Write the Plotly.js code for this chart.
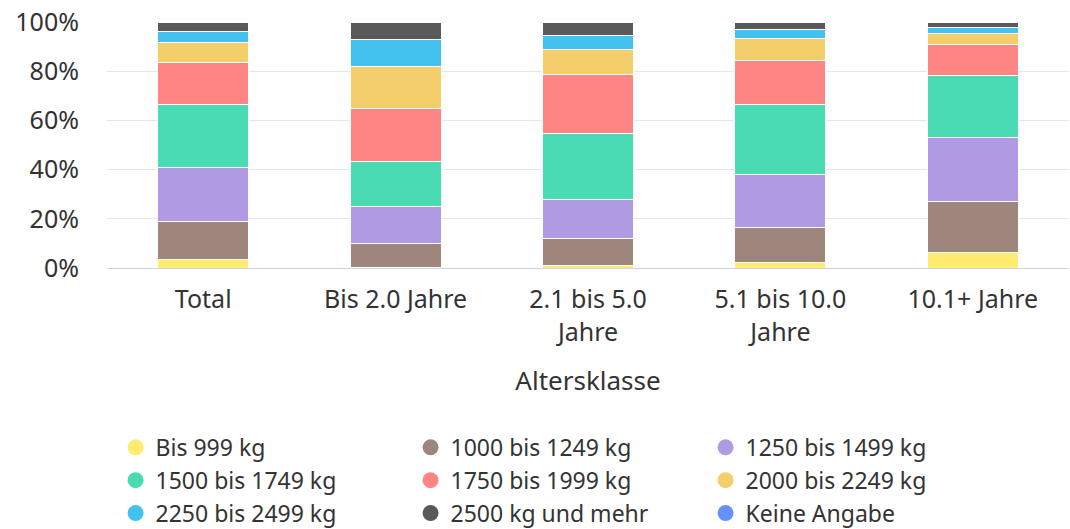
<!DOCTYPE html>
<html>
<head>
<meta charset="utf-8">
<script src="https://cdn.plot.ly/plotly-3.0.1.min.js"></script>
<style>html,body{margin:0;padding:0;background:#fff}#chart{width:1070px;height:529px}</style>
</head>
<body>
<div id="chart"></div>
<script>
const categories = ["Total", "Bis 2.0 Jahre", "2.1 bis 5.0 Jahre", "5.1 bis 10.0 Jahre", "10.1+ Jahre"];
const tickLabels = ["Total", "Bis 2.0 Jahre", "2.1 bis 5.0<br>Jahre", "5.1 bis 10.0<br>Jahre", "10.1+ Jahre"];
const yTickValues = [0, 20, 40, 60, 80, 100];
const yTickLabels = ["0%", "20%", "40%", "60%", "80%", "100%"];
const seriesNames = ["Bis 999 kg", "1000 bis 1249 kg", "1250 bis 1499 kg", "1500 bis 1749 kg", "1750 bis 1999 kg", "2000 bis 2249 kg", "2250 bis 2499 kg", "2500 kg und mehr", "Keine Angabe"];
const bis999     = [3.3, 0.3, 1.1, 2.4, 6.2];
const s1000_1249 = [15.5, 9.7, 11.0, 14.1, 20.8];
const s1250_1499 = [21.9, 14.8, 15.7, 21.5, 26.0];
const s1500_1749 = [25.8, 18.6, 26.8, 28.4, 25.4];
const s1750_1999 = [17.1, 21.6, 23.9, 17.9, 12.6];
const s2000_2249 = [8.1, 17.1, 10.2, 8.9, 4.4];
const s2250_2499 = [4.4, 10.6, 6.0, 3.8, 2.3];
const s2500plus  = [3.9, 7.3, 5.3, 3.0, 2.3];
const keineAngabe = [0, 0, 0, 0, 0];
const seriesValues = [bis999, s1000_1249, s1250_1499, s1500_1749, s1750_1999, s2000_2249, s2250_2499, s2500plus, keineAngabe];
const colors = ["#FFEB6E", "#9E867C", "#B19AE4", "#4ADBB4", "#FF8585", "#F4CE6A", "#43C1EF", "#595959", "#6690FF"];

const FONT = "Noto Sans, Open Sans, sans-serif";
const traces = [];
seriesValues.forEach((vals, i) => {
  traces.push({
    type: "bar", name: seriesNames[i], x: categories, y: vals,
    marker: {color: colors[i], line: {color: "#ffffff", width: 1}},
    showlegend: false, legendgroup: "g" + i,
    hovertemplate: "%{x}<br>" + seriesNames[i] + ": %{y}%<extra></extra>"
  });
});
seriesValues.forEach((vals, i) => {
  traces.push({
    type: "scatter", mode: "markers", name: seriesNames[i], x: [null], y: [null],
    marker: {color: colors[i], size: 20, symbol: "circle"},
    showlegend: true, legendgroup: "g" + i, hoverinfo: "skip"
  });
});

const layout = {
  width: 1070, height: 529,
  paper_bgcolor: "#ffffff", plot_bgcolor: "#ffffff",
  margin: {l: 107, r: 1, t: 22, b: 261},
  barmode: "stack", bargap: 0.527,
  font: {family: FONT, size: 25, color: "#333333"},
  showlegend: true,
  xaxis: {
    type: "category", categoryarray: categories, tickvals: categories, ticktext: tickLabels,
    showline: true, linecolor: "#ccd6eb", linewidth: 1, ticks: "",
    ticklabelstandoff: 9,
    tickfont: {family: FONT, size: 25, color: "#333333"},
    title: {text: "Altersklasse", font: {family: FONT, size: 26, color: "#333333"}, standoff: 25},
    automargin: false, fixedrange: true
  },
  yaxis: {
    range: [0, 100], tickmode: "array", tickvals: yTickValues, ticktext: yTickLabels,
    showgrid: true, gridcolor: "#e6e6e6", gridwidth: 1, zeroline: false,
    ticklabelstandoff: 27,
    tickfont: {family: FONT, size: 25, color: "#333333"},
    automargin: false, fixedrange: true
  },
  legend: {
    orientation: "h", traceorder: "normal",
    xref: "container", yref: "container", x: 0.108, y: 0.195, xanchor: "left", yanchor: "top",
    entrywidth: 250, entrywidthmode: "pixels",
    font: {family: FONT, size: 23, color: "#333333"},
    itemsizing: "trace", tracegroupgap: 0, bgcolor: "rgba(0,0,0,0)",
    maxheight: 1
  }
};
Plotly.newPlot("chart", traces, layout, {displayModeBar: false, staticPlot: true});
</script>
</body>
</html>
